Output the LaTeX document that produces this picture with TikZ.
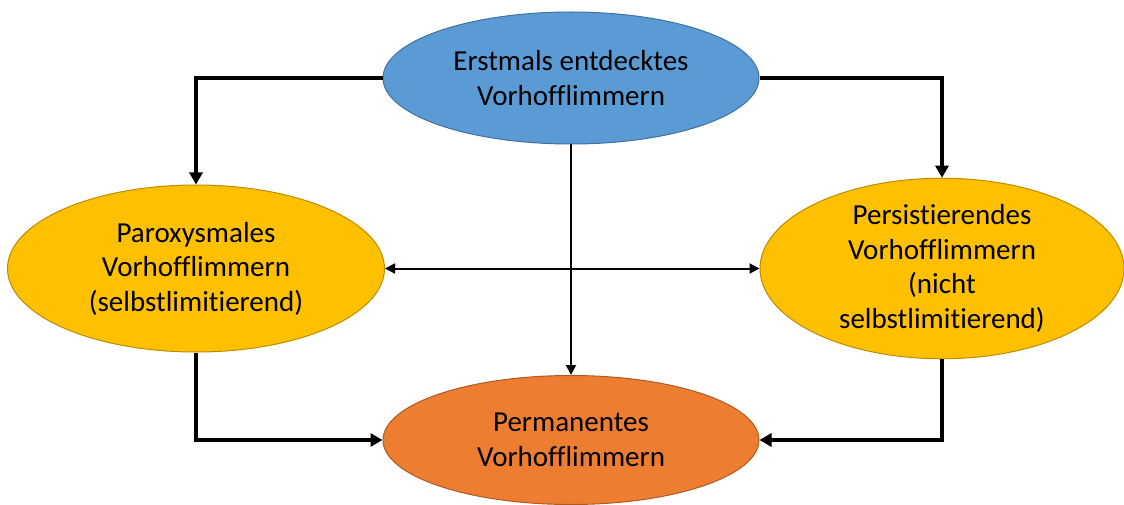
\documentclass[tikz,border=0pt]{standalone}
\usepackage{fontspec}
\setmainfont{Carlito}[Ligatures=NoCommon]
\usetikzlibrary{shapes.geometric,arrows.meta}
\definecolor{topfill}{HTML}{5B9BD5}
\definecolor{topline}{HTML}{41719C}
\definecolor{sidefill}{HTML}{FFC000}
\definecolor{sideline}{HTML}{BC8C00}
\definecolor{botfill}{HTML}{ED7D31}
\definecolor{botline}{HTML}{AE5A21}
\tikzset{
  blob/.style={ellipse, inner sep=0pt, line width=1pt, align=center,
    font=\fontsize{29}{34.5}\selectfont, text=black},
  bigarrow/.style={line width=3.2pt, -{Triangle[length=12pt,width=13pt]}},
  thinarrow/.style={line width=2pt, -{Triangle[length=10pt,width=10pt]}},
  dblarrow/.style={line width=2pt, {Triangle[length=10pt,width=10pt]}-{Triangle[length=10pt,width=10pt]}}
}
\begin{document}
\begin{tikzpicture}[x=1pt,y=-1pt]
\useasboundingbox (0,0) rectangle (1124,505);
\node[blob, draw=topline, fill=topfill, minimum width=376pt, minimum height=132pt] (top) at (571,78) {Erstmals entdecktes\\Vorhofflimmern};
\node[blob, draw=sideline, fill=sidefill, minimum width=377pt, minimum height=167pt] (left) at (196,268.5) {Paroxysmales\\Vorhofflimmern\\(selbstlimitierend)};
\node[blob, draw=sideline, fill=sidefill, minimum width=364pt, minimum height=167pt] (right) at (942,268.5) {Persistierendes\\Vorhofflimmern\\(nicht\\selbstlimitierend)};
\node[blob, draw=botline, fill=botfill, minimum width=376pt, minimum height=129pt] (bot) at (571,440) {Permanentes\\Vorhofflimmern};
\draw[bigarrow] (top.west) -| (left.north);
\draw[bigarrow] (top.east) -| (right.north);
\draw[bigarrow] (left.south) |- (bot.west);
\draw[bigarrow] (right.south) |- (bot.east);
\draw[thinarrow] (top.south) -- (bot.north);
\draw[dblarrow] (left.east) -- (right.west);
\end{tikzpicture}
\end{document}
